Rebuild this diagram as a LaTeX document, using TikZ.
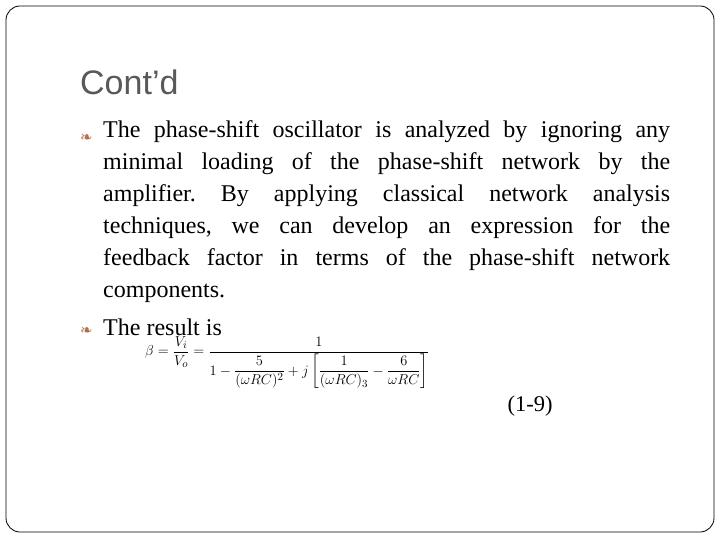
\documentclass[tikz,border=0pt]{standalone}
\usepackage{amsmath}
\usepackage{fontspec}
\setmainfont{Liberation Serif}
\newfontfamily\titlefont{Liberation Sans}
\newfontfamily\symfont{DejaVu Sans}
\definecolor{titlegray}{HTML}{595959}
\definecolor{bulletbrown}{HTML}{B0704A}
\frenchspacing
\hyphenpenalty=10000
\begin{document}
\begin{tikzpicture}[x=1pt,y=-1pt,
  body/.style={anchor=north west,inner sep=0,align=justify,text width=567pt,font=\fontsize{24}{32}\selectfont},
  bul/.style={anchor=base west,inner sep=0,text=bulletbrown,font=\symfont\fontsize{15}{15}\selectfont}]
\useasboundingbox (0,0) rectangle (720,540);
\draw[rounded corners=14pt,line width=0.8pt] (6,6) rectangle (714,532);
\node[anchor=base west,inner sep=0,text=titlegray,font=\titlefont\fontsize{34}{34}\selectfont] (title) at (80,95) {Cont’d};
\node[bul] (b1) at (80,143) {❧};
\node[body] (p1) at (103,120) {The phase-shift oscillator is analyzed by ignoring any\linebreak minimal loading of the phase-shift network by the\linebreak amplifier. By applying classical network analysis\linebreak techniques, we can develop an expression for the\linebreak feedback factor in terms of the phase-shift network\linebreak components.};
\node[bul] (b2) at (80,335) {❧};
\node[anchor=base west,inner sep=0,font=\fontsize{24}{32}\selectfont] (p2) at (103,335) {The result is};
\node[anchor=north west,inner sep=0,font=\fontsize{15}{17}\selectfont] (eq) at (145,336)
 {$\beta=\dfrac{V_i}{V_o}=\dfrac{1}{1-\dfrac{5}{(\omega RC)^2}+j\left[\dfrac{1}{(\omega RC)_3}-\dfrac{6}{\omega RC}\right]}$};
\node[anchor=base,inner sep=0,font=\fontsize{22.5}{32}\selectfont] (num) at (530,411) {(1-9)};
\end{tikzpicture}
\end{document}
